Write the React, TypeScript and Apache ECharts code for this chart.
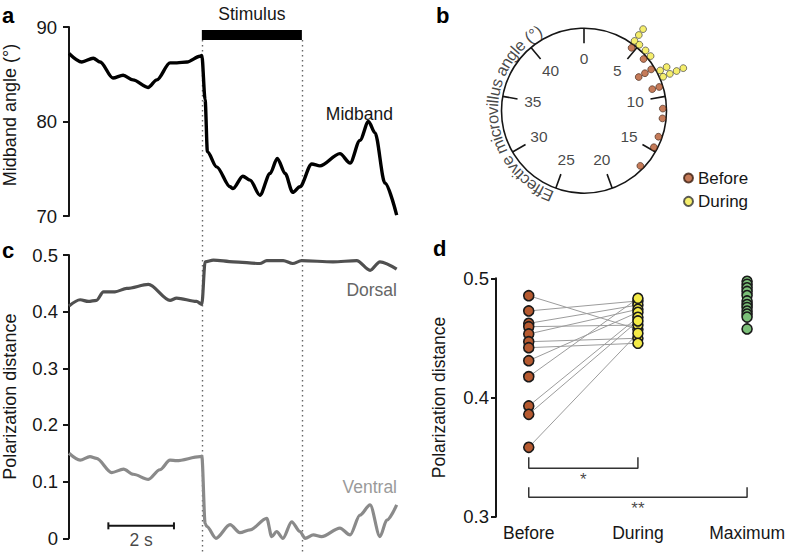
import React, { useEffect, useRef } from "react";
import * as echarts from "echarts";

const FONT = "'Liberation Sans', Arial, Helvetica, sans-serif";
const INK = "#161616";

// ---------- Panel a: midband angle over time (s) ----------
const midbandTime = [0, 0.39, 0.74, 0.95, 1.34, 1.65, 1.95, 2.41, 2.68, 3.08, 3.29, 3.6, 3.99, 4.05, 4.15, 4.22, 4.5, 4.91, 5.0, 5.3, 5.52, 5.82, 6.13, 6.35, 6.59, 6.82, 7.04, 7.4, 7.65, 8.26, 8.57, 8.87, 9.13, 9.33, 9.63, 9.99];
const midbandAngle = [87.2, 86.3, 86.7, 86.3, 84.6, 84.9, 84.4, 83.6, 84.4, 86.2, 86.2, 86.3, 86.9, 87.0, 82.3, 76.8, 75.2, 73.1, 72.9, 74.2, 73.8, 72.2, 74.5, 76.1, 74.5, 72.5, 73.1, 75.5, 75.3, 76.6, 75.6, 78.0, 80.0, 78.8, 73.5, 70.1];
const stimulusStart = 4.05;
const stimulusEnd = 7.1;
const stimulusBarLow = 88.62;
const stimulusBarHigh = 89.68;

// ---------- Panel c: polarization distance over time (s) ----------
const dorsalTime = [0, 0.34, 0.59, 0.84, 1.05, 1.4, 1.76, 2.42, 3.08, 3.28, 3.89, 4.05, 4.15, 4.4, 5.01, 5.82, 6.03, 6.53, 6.82, 7.09, 8.05, 8.77, 9.18, 9.48, 9.99];
const dorsalDist = [0.41, 0.421, 0.418, 0.42, 0.435, 0.435, 0.441, 0.448, 0.42, 0.424, 0.418, 0.413, 0.488, 0.491, 0.488, 0.485, 0.49, 0.49, 0.485, 0.49, 0.488, 0.49, 0.473, 0.488, 0.475];
const ventralTime = [0, 0.34, 0.64, 0.84, 1.3, 1.66, 1.96, 2.42, 2.77, 3.08, 3.28, 3.99, 4.05, 4.15, 4.2, 4.48, 4.91, 5.21, 5.52, 6.03, 6.18, 6.33, 6.52, 6.79, 7.04, 7.2, 7.45, 7.7, 8.26, 8.57, 8.87, 9.18, 9.48, 9.69, 9.99];
const ventralDist = [0.15, 0.138, 0.144, 0.141, 0.116, 0.122, 0.113, 0.104, 0.121, 0.138, 0.137, 0.144, 0.145, 0.026, 0.021, 0.0, 0.024, 0.01, 0.015, 0.035, 0.003, 0.012, 0.0, 0.029, 0.012, 0.0, 0.006, 0.003, 0.018, 0.006, 0.041, 0.059, 0.003, 0.032, 0.059];
const scaleBarStart = 1.2;
const scaleBarLength = 2;
const scaleBarLevel = 0.022;

// ---------- Panel b: effective microvillus angle (dot histogram) ----------
const microvillusTicks = [0, 5, 10, 15, 20, 25, 30, 35, 40];
const beforeAngle = [4.64, 6.13, 7.3, 7.3, 7.3, 9.06, 9.06, 11.06, 11.95, 13.66, 14.7, 16.8];
const beforeStack = [1, 1, 1, 2, 3, 1, 2, 1, 1, 1, 1, 1];
const duringAngle = [4.49, 4.49, 4.49, 5.0, 5.7, 6.33, 7.77, 7.77, 8.35, 8.35, 8.35, 8.35];
const duringStack = [1, 2, 3, 1, 1, 1, 1, 2, 1, 2, 3, 4];
const circleTitle = "Effective microvillus angle (°)";

// ---------- Panel d: polarization distance per condition ----------
const groups = ["Before", "During", "Maximum"];
const pdBefore = [0.4854, 0.4726, 0.4622, 0.4594, 0.4533, 0.4468, 0.4418, 0.4309, 0.4175, 0.3929, 0.3859, 0.3582];
const pdDuring = [0.4572, 0.481, 0.4776, 0.4608, 0.474, 0.4497, 0.4455, 0.4715, 0.4832, 0.4673, 0.4642, 0.4539];
const pdMaximum = [0.4975, 0.495, 0.492, 0.489, 0.4855, 0.481, 0.478, 0.4755, 0.4725, 0.47, 0.4675, 0.4575];
const bracketShort = { from: 1, to: 2, low: 0.3406, high: 0.3498, mark: "*", markLevel: 0.3312 };
const bracketLong = { from: 1, to: 3, low: 0.3163, high: 0.3247, mark: "**", markLevel: 0.3069 };

const BROWN = "#B65A30";
const YELLOW = "#F3EA47";
const GREEN = "#7BBF78";

// Arial / Liberation Sans advance widths (per 1000 em) for the curved title
const ADV: Record<string, number> = {
  E: 667, f: 278, c: 500, t: 278, i: 222, v: 500, e: 556, " ": 278, m: 833, r: 333, o: 556,
  l: 222, u: 556, s: 500, a: 556, n: 556, g: 556, "(": 333, "°": 400, ")": 333,
};

// polar #1 geometry: 7.3 px per radial unit, circle edge at 0
const PX_PER_UNIT = 7.3;
const R_MIN = -11.3;
const R_MAX = 4.7;
const DEG_PER_UNIT = 8; // 45 angle units per full turn

export default function App() {
  const ref = useRef<HTMLDivElement>(null);

  useEffect(() => {
    if (!ref.current) return;
    const chart = echarts.init(ref.current, null, { renderer: "svg" });
    const axisLineStyle = { color: INK, width: 2 };
    const txt = { fontFamily: FONT, color: INK };
    const TICK_FS = 18.5;

    const bracketData = (b: any) => [
      [b.from, b.high],
      [b.from, b.low],
      [b.to, b.low],
      [b.to, b.high],
    ];

    // curved title characters placed along an arc of polar #1
    const titleFs = 16.5;
    const chars = Array.from(circleTitle);
    const widths = chars.map((c) => ((ADV[c] ?? 556) / 1000) * titleFs);
    const total = widths.reduce((a, b) => a + b, 0);
    const rTextPx = 92;
    const midDeg = 266;
    const spanDeg = (total / rTextPx) * (180 / Math.PI);
    let acc = 0;
    const titleData = chars.map((ch, i) => {
      const s = acc + widths[i] / 2;
      acc += widths[i];
      const deg = midDeg - spanDeg / 2 + (s / total) * spanDeg;
      let rot = -deg;
      while (rot <= -180) rot += 360;
      while (rot > 180) rot -= 360;
      return {
        name: ch,
        value: [rTextPx / PX_PER_UNIT + R_MIN, deg / DEG_PER_UNIT],
        label: { rotate: rot },
      };
    });

    chart.setOption({
      animation: false,
      grid: [
        { left: 69, top: 27, width: 328, height: 189 },
        { left: 69, top: 255, width: 328, height: 283.3 },
        { left: 496, top: 278.3, width: 287.3, height: 238.4 },
      ],
      xAxis: [
        { gridIndex: 0, type: "value", min: 0, max: 10, show: false },
        { gridIndex: 1, type: "value", min: 0, max: 10, show: false },
        {
          gridIndex: 2,
          type: "value",
          min: 0.7,
          max: 3.3,
          axisLine: { show: false },
          axisTick: { show: false },
          splitLine: { show: false },
          axisLabel: {
            customValues: [1, 2, 3],
            formatter: (v: number) => groups[Math.round(v) - 1] ?? "",
            fontSize: 17.5,
            margin: 7,
            ...txt,
          },
        },
      ],
      yAxis: [
        {
          gridIndex: 0,
          type: "value",
          min: 70,
          max: 90,
          interval: 10,
          name: "Midband angle (°)",
          nameLocation: "middle",
          nameGap: 50,
          nameTextStyle: { fontSize: 18, ...txt, padding: [0, 0, 0, 13] },
          axisLine: { show: true, lineStyle: axisLineStyle },
          axisTick: { show: true, length: 6, lineStyle: axisLineStyle },
          splitLine: { show: false },
          axisLabel: { fontSize: TICK_FS, margin: 12, ...txt },
        },
        {
          gridIndex: 1,
          type: "value",
          min: 0,
          max: 0.5,
          interval: 0.1,
          name: "Polarization distance",
          nameLocation: "middle",
          nameGap: 50,
          nameTextStyle: { fontSize: 18, ...txt },
          axisLine: { show: true, lineStyle: axisLineStyle },
          axisTick: { show: true, length: 6, lineStyle: axisLineStyle },
          splitLine: { show: false },
          axisLabel: {
            fontSize: TICK_FS,
            margin: 11,
            ...txt,
            formatter: (v: number) => (Math.abs(v) < 1e-9 ? "0" : v.toFixed(1)),
          },
        },
        {
          gridIndex: 2,
          type: "value",
          min: 0.3,
          max: 0.5,
          interval: 0.1,
          name: "Polarization distance",
          nameLocation: "middle",
          nameGap: 48,
          nameTextStyle: { fontSize: 17.5, ...txt },
          axisLine: { show: true, lineStyle: axisLineStyle },
          axisTick: { show: true, length: 5, lineStyle: axisLineStyle },
          splitLine: { show: false },
          axisLabel: { fontSize: TICK_FS, margin: 7, ...txt, formatter: (v: number) => v.toFixed(1) },
        },
      ],
      polar: [
        { center: [584, 110.7], radius: 82.5 },
        { center: [584, 110.7], radius: (R_MAX - R_MIN) * PX_PER_UNIT },
      ],
      angleAxis: [
        {
          polarIndex: 0,
          type: "value",
          min: 0,
          max: 45,
          interval: 5,
          startAngle: 90,
          clockwise: true,
          axisLine: { show: true, lineStyle: { color: INK, width: 1.6 } },
          axisTick: { show: true, inside: true, length: 15, lineStyle: { color: INK, width: 1.6 } },
          axisLabel: { show: false },
          splitLine: { show: false },
          splitArea: { show: false },
        },
        {
          polarIndex: 1,
          type: "value",
          min: 0,
          max: 45,
          startAngle: 90,
          clockwise: true,
          show: false,
        },
      ],
      radiusAxis: [
        { polarIndex: 0, type: "value", min: 0, max: 1, show: false },
        { polarIndex: 1, type: "value", min: R_MIN, max: R_MAX, show: false },
      ],
      legend: {
        data: ["Before", "During"],
        orient: "vertical",
        left: 678,
        top: 164.5,
        icon: "circle",
        itemWidth: 9,
        itemHeight: 9,
        itemGap: 6.4,
        selectedMode: false,
        textStyle: { fontSize: 17, lineHeight: 17, ...txt },
      },
      series: [
        {
          type: "line",
          name: "Midband",
          xAxisIndex: 0,
          yAxisIndex: 0,
          data: midbandTime.map((t, i) => [t, midbandAngle[i]]),
          symbol: "none",
          smooth: 0.3,
          smoothMonotone: "x",
          lineStyle: { color: "#000", width: 3.4 },
          silent: true,
          markArea: {
            silent: true,
            itemStyle: { color: "#000" },
            label: {
              show: true,
              position: "top",
              distance: 7,
              formatter: "Stimulus",
              fontSize: 17.5,
              ...txt,
            },
            data: [[{ xAxis: stimulusStart, yAxis: stimulusBarLow }, { xAxis: stimulusEnd, yAxis: stimulusBarHigh }]],
          },
        },
        {
          type: "line",
          name: "Dorsal",
          xAxisIndex: 1,
          yAxisIndex: 1,
          data: dorsalTime.map((t, i) => [t, dorsalDist[i]]),
          symbol: "none",
          smooth: 0.3,
          smoothMonotone: "x",
          lineStyle: { color: "#505050", width: 3.2 },
          silent: true,
        },
        {
          type: "line",
          name: "Ventral",
          xAxisIndex: 1,
          yAxisIndex: 1,
          data: ventralTime.map((t, i) => [t, ventralDist[i]]),
          symbol: "none",
          smooth: 0.3,
          smoothMonotone: "x",
          lineStyle: { color: "#8a8a8a", width: 3.2 },
          silent: true,
        },
        {
          type: "line",
          name: "scale bar",
          xAxisIndex: 1,
          yAxisIndex: 1,
          data: [
            [scaleBarStart, scaleBarLevel],
            [scaleBarStart + scaleBarLength, scaleBarLevel],
          ],
          symbol: "rect",
          symbolSize: [2, 7],
          showSymbol: true,
          itemStyle: { color: INK },
          lineStyle: { color: INK, width: 2 },
          silent: true,
        },
        {
          type: "scatter",
          name: "scale label",
          xAxisIndex: 1,
          yAxisIndex: 1,
          data: [[scaleBarStart + scaleBarLength / 2, scaleBarLevel]],
          symbolSize: 1,
          itemStyle: { color: "transparent" },
          label: { show: true, position: "bottom", distance: 5, formatter: `${scaleBarLength} s`, fontSize: 17.5, ...txt },
          silent: true,
        },
        {
          type: "scatter",
          name: "angle labels",
          coordinateSystem: "polar",
          polarIndex: 0,
          data: microvillusTicks.map((a) => [0.63, a]),
          symbolSize: 1,
          itemStyle: { color: "transparent" },
          label: {
            show: true,
            position: "inside",
            formatter: (p: any) => String(p.value[1]),
            fontSize: 15.5,
            ...txt,
          },
          silent: true,
        },
        {
          type: "scatter",
          name: "circle title",
          coordinateSystem: "polar",
          polarIndex: 1,
          data: titleData,
          symbolSize: 1,
          itemStyle: { color: "transparent" },
          label: {
            show: true,
            position: "inside",
            formatter: "{b}",
            fontSize: titleFs,
            ...txt,
          },
          silent: true,
        },
        {
          type: "scatter",
          name: "Before",
          coordinateSystem: "polar",
          polarIndex: 1,
          data: beforeAngle.map((a, i) => [-(beforeStack[i] - 0.5), a]),
          symbolSize: 6.8,
          itemStyle: { color: BROWN, borderColor: "#3b1e10", borderWidth: 0.8 },
          silent: true,
          z: 3,
        },
        {
          type: "scatter",
          name: "During",
          coordinateSystem: "polar",
          polarIndex: 1,
          data: duringAngle.map((a, i) => [duringStack[i] - 0.5, a]),
          symbolSize: 6.8,
          itemStyle: { color: YELLOW, borderColor: "#333", borderWidth: 0.8 },
          silent: true,
          z: 3,
        },
        {
          type: "lines",
          name: "pairs",
          coordinateSystem: "cartesian2d",
          xAxisIndex: 2,
          yAxisIndex: 2,
          data: pdBefore.map((b, i) => ({ coords: [[1, b], [2, pdDuring[i]]] })),
          lineStyle: { color: "#9c9c9c", width: 1, opacity: 1 },
          silent: true,
          z: 1,
        },
        {
          type: "scatter",
          name: "d-before",
          xAxisIndex: 2,
          yAxisIndex: 2,
          data: pdBefore.map((v) => [1, v]),
          symbolSize: 10,
          itemStyle: { color: BROWN, borderColor: "#1a1a1a", borderWidth: 1.6, opacity: 1 },
          silent: true,
          z: 3,
        },
        {
          type: "scatter",
          name: "d-during",
          xAxisIndex: 2,
          yAxisIndex: 2,
          data: pdDuring.map((v) => [2, v]),
          symbolSize: 10,
          itemStyle: { color: YELLOW, borderColor: "#1a1a1a", borderWidth: 1.6, opacity: 1 },
          silent: true,
          z: 3,
        },
        {
          type: "scatter",
          name: "d-maximum",
          xAxisIndex: 2,
          yAxisIndex: 2,
          data: pdMaximum.map((v) => [3, v]),
          symbolSize: 10,
          itemStyle: { color: GREEN, borderColor: "#1a1a1a", borderWidth: 1.6, opacity: 1 },
          silent: true,
          z: 3,
        },
        ...[bracketShort, bracketLong].map((b) => ({
          type: "line",
          xAxisIndex: 2,
          yAxisIndex: 2,
          data: bracketData(b),
          symbol: "none",
          lineStyle: { color: "#333", width: 1.5 },
          silent: true,
        })),
        {
          type: "scatter",
          name: "significance",
          xAxisIndex: 2,
          yAxisIndex: 2,
          data: [bracketShort, bracketLong].map((b) => [(b.from + b.to) / 2, b.markLevel, b.mark]),
          symbolSize: 1,
          itemStyle: { color: "transparent" },
          label: { show: true, position: "inside", formatter: (p: any) => p.value[2], fontSize: 17, ...txt },
          silent: true,
        },
      ],
    });

    // ----- overlays computed through the axes -----
    const px = (xi: number, v: number) => chart.convertToPixel({ xAxisIndex: xi } as any, v) as unknown as number;
    const py = (yi: number, v: number) => chart.convertToPixel({ yAxisIndex: yi } as any, v) as unknown as number;
    const graphics: any[] = [];

    const dottedTop = py(0, stimulusBarLow);
    [stimulusStart, stimulusEnd].forEach((t) => {
      const x = Math.round(px(0, t)) + 0.5;
      graphics.push({
        type: "line",
        shape: { x1: x, y1: dottedTop, x2: x, y2: 554 },
        style: { stroke: "#666", lineWidth: 1.4, lineDash: [1.4, 3.6] },
        silent: true,
      });
    });

    // panel letters
    const letters = [
      { t: "a", x: 2, y: 15 },
      { t: "b", x: 436, y: 15 },
      { t: "c", x: 2, y: 250 },
      { t: "d", x: 433, y: 248 },
    ];
    letters.forEach((l) =>
      graphics.push({
        type: "text",
        x: l.x,
        y: l.y,
        style: { text: l.t, fontSize: 22, fontWeight: "bold", fontFamily: FONT, fill: "#000", align: "left", verticalAlign: "middle" },
        silent: true,
      })
    );

    // series annotations
    const notes = [
      { t: "Midband", x: 393, y: 114, c: INK },
      { t: "Dorsal", x: 397, y: 290, c: "#666" },
      { t: "Ventral", x: 397, y: 487, c: "#9a9a9a" },
    ];
    notes.forEach((n) =>
      graphics.push({
        type: "text",
        x: n.x,
        y: n.y,
        style: { text: n.t, fontSize: 17.5, fontFamily: FONT, fill: n.c, align: "right", verticalAlign: "middle" },
        silent: true,
      })
    );

    chart.setOption({ graphic: graphics });

    return () => chart.dispose();
  }, []);

  return <div ref={ref} style={{ position: "absolute", left: 0, top: 0, width: 788, height: 554, background: "#fff" }} />;
}
